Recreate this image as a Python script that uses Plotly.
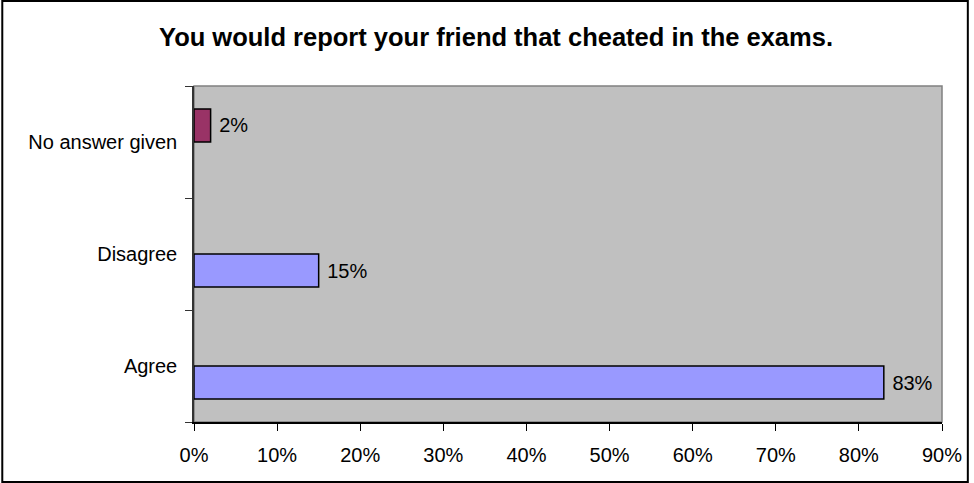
import plotly.graph_objects as go

# Survey responses (percent of respondents)
categories = ["Agree", "Disagree", "No answer given"]
main_values = [83, 15, None]
no_answer_values = [None, None, 2]
x_ticks = [0, 10, 20, 30, 40, 50, 60, 70, 80, 90]

W, H = 974, 483
ML, MR, MT, MB = 194, 27, 86, 61
FONT = "Liberation Sans, Arial, sans-serif"


def labels(vals):
    return ["\u00a0" + f"{v}%" if v is not None else "" for v in vals]


fig = go.Figure()
fig.add_trace(go.Bar(
    y=categories, x=main_values, orientation="h",
    marker=dict(color="#9999FF", line=dict(color="black", width=1.5)),
    text=labels(main_values), textposition="outside",
    textfont=dict(family=FONT, size=20, color="black"),
    cliponaxis=False, showlegend=False, hoverinfo="skip",
))
fig.add_trace(go.Bar(
    y=categories, x=no_answer_values, orientation="h",
    marker=dict(color="#993366", line=dict(color="black", width=1.5)),
    text=labels(no_answer_values), textposition="outside",
    textfont=dict(family=FONT, size=20, color="black"),
    cliponaxis=False, showlegend=False, hoverinfo="skip",
))

pw = W - ML - MR
ph = H - MT - MB

fig.update_layout(
    width=W, height=H,
    margin=dict(l=ML, r=MR, t=MT, b=MB, pad=0),
    paper_bgcolor="white",
    plot_bgcolor="#C0C0C0",
    barmode="group", bargap=0.41, bargroupgap=0,
    font=dict(family=FONT, size=20, color="black"),
    title=dict(
        text="<b>You would report your friend that cheated in the exams.</b>",
        x=496 / W, xanchor="center", xref="container",
        y=1 - 37 / H, yanchor="middle", yref="container",
        font=dict(family=FONT, size=25.5, color="black"),
    ),
    xaxis=dict(
        range=[0, 90], tickvals=x_ticks, ticktext=[f"{t}%" for t in x_ticks],
        showgrid=False, zeroline=False,
        showline=True, linecolor="#000000", linewidth=1.5,
        ticks="outside", ticklen=7, tickcolor="#000000", tickwidth=1,
        ticklabelstandoff=7,
        tickfont=dict(family=FONT, size=20, color="black"),
        fixedrange=True,
    ),
    yaxis=dict(
        type="category", categoryorder="array", categoryarray=categories,
        showgrid=False, zeroline=False,
        showline=True, linecolor="#333333", linewidth=1.5,
        ticks="outside", ticklen=7, tickcolor="#333333", tickwidth=1,
        tickson="boundaries", ticklabelstandoff=11,
        tickfont=dict(family=FONT, size=20, color="black"),
        fixedrange=True,
    ),
    shapes=[
        # plot-area frame (top and right edges)
        dict(type="rect", xref="paper", yref="paper", x0=0, x1=1, y0=0, y1=1,
             line=dict(color="#808080", width=1.5), layer="below"),
        # outer chart border
        dict(type="rect", xref="paper", yref="paper",
             x0=(-ML + 1) / pw, x1=1 + (MR - 1) / pw,
             y0=(-MB + 1) / ph, y1=1 + (MT - 1) / ph,
             line=dict(color="black", width=2)),
    ],
)

fig.write_html("out.html")
